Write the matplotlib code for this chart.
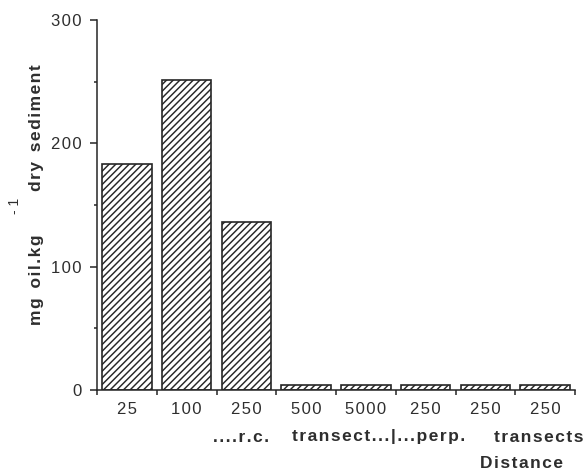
import matplotlib
matplotlib.use("Agg")
import matplotlib.pyplot as plt
from matplotlib.ticker import FixedLocator, NullFormatter

plt.rcParams["font.family"] = ["Liberation Sans", "DejaVu Sans"]
plt.rcParams["hatch.linewidth"] = 1.05
plt.rcParams["hatch.color"] = "#262626"

# Oil concentration in sediment at each sampling distance
distances = ["25", "100", "250", "500", "5000", "250", "250", "250"]
oil_mg_per_kg = [183, 251, 136, 4, 4, 4, 4, 4]

y_major = [0, 100, 200, 300]
y_minor = [50, 150, 250]

ink = "#262626"
txt = "#2e2e2e"
HAIR = "\u200a"


def tracked(s):
    """Open up letter spacing the way the typewriter-style labels are set."""
    return HAIR.join(s)


fig = plt.figure(figsize=(5.86, 4.69), dpi=100)
ax = fig.add_axes([97 / 586, 1 - 390 / 469, 478 / 586, 370 / 469])

positions = list(range(len(distances)))
ax.bar(positions, oil_mg_per_kg, width=0.83, color="white", edgecolor=ink,
       linewidth=1.2, hatch="/////", zorder=2)

ax.set_xlim(-0.5, len(distances) - 0.5)
ax.set_ylim(0, 300)

for side in ("top", "right"):
    ax.spines[side].set_visible(False)
for side in ("left", "bottom"):
    ax.spines[side].set_linewidth(1.1)
    ax.spines[side].set_color(ink)

# y axis: labelled hundreds, short unlabelled ticks in between
ax.yaxis.set_major_locator(FixedLocator(y_major))
ax.set_yticklabels([tracked(str(v)) for v in y_major])
ax.yaxis.set_minor_locator(FixedLocator(y_minor))
ax.yaxis.set_minor_formatter(NullFormatter())
ax.tick_params(axis="y", which="major", direction="out", length=5, width=1.1,
               color=ink, labelsize=12, labelcolor=txt, pad=6)
ax.tick_params(axis="y", which="minor", direction="out", length=2.5, width=1.1,
               color=ink)

# x axis: ticks at the category boundaries, labels under each bar
bounds = [p - 0.5 for p in positions] + [positions[-1] + 0.5]
ax.xaxis.set_major_locator(FixedLocator(bounds))
ax.xaxis.set_major_formatter(NullFormatter())
ax.set_xticks(positions, labels=[tracked(d) for d in distances], minor=True)
ax.tick_params(axis="x", which="major", direction="out", length=3.5, width=1.1,
               color=ink)
ax.tick_params(axis="x", which="minor", length=0, labelsize=12,
               labelcolor=txt, pad=9)

# y-axis title in two parts with the separated exponent
bold = dict(fontsize=12.5, fontweight="bold", color=txt)
fig.text(37 / 586, 1 - 280 / 469, tracked("mg") + "  " + tracked("oil.kg"),
         rotation=90, ha="center", va="center", **bold)
fig.text(37 / 586, 1 - 128 / 469, tracked("dry") + "  " + tracked("sediment"),
         rotation=90, ha="center", va="center", **bold)
fig.text(15 / 586, 1 - 206 / 469, "- 1", rotation=90, ha="center",
         va="center", fontsize=10, color=txt)

# grouping line under the tick labels and the x-axis title
row_y = 1 - 437 / 469
fig.text(213 / 586, row_y, tracked("....r.c."), ha="left", va="center", **bold)
fig.text(292 / 586, row_y, tracked("transect...|...perp."), ha="left",
         va="center", **bold)
fig.text(584 / 586, row_y, tracked("transects"), ha="right", va="center",
         **bold)
fig.text(521 / 586, 1 - 463 / 469, tracked("Distance"), ha="center",
         va="center", **bold)

fig.savefig("out.png", dpi=100)
